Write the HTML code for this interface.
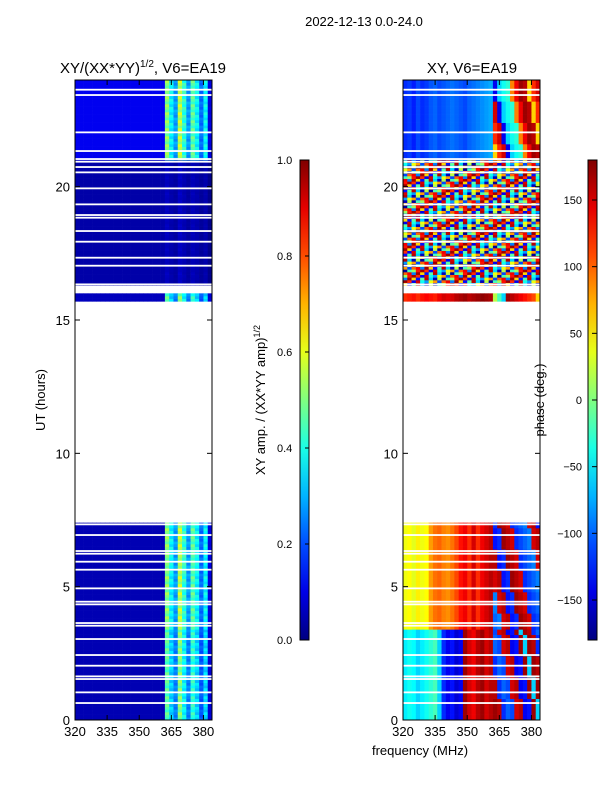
<!DOCTYPE html>
<html><head><meta charset="utf-8"><style>
body{margin:0;background:#fff}
svg{display:block;font-family:"Liberation Sans",sans-serif}
</style></head><body>
<svg id="s" width="600" height="800" xmlns="http://www.w3.org/2000/svg">
<text x="364" y="26" font-size="13" text-anchor="middle">2022-12-13 0.0-24.0</text>
<text x="143" y="73" font-size="15" text-anchor="middle">XY/(XX*YY)<tspan font-size="10" dy="-6">1/2</tspan><tspan dy="6">, V6=EA19</tspan></text>
<text x="472" y="73" font-size="15" text-anchor="middle">XY, V6=EA19</text>
<text transform="translate(45,400) rotate(-90)" font-size="13" text-anchor="middle">UT (hours)</text>
<text transform="translate(265,400) rotate(-90)" font-size="13" text-anchor="middle">XY amp. / (XX*YY amp)<tspan font-size="9" dy="-5">1/2</tspan></text>
<text transform="translate(544,400) rotate(-90)" font-size="13" text-anchor="middle">phase (deg.)</text>
<text x="420" y="755" font-size="13" text-anchor="middle">frequency (MHz)</text>
<g id="g"></g>
</svg>
<script>
// ---- data ----
const freqBins=[320,322,324,326,328,330,332,334,336,338,340,342,344,346,348,350,352,354,356,358,360,362,364,366,368,370,372,374,376,378,380,382];
const ampProfile=[0.05,0.05,0.05,0.05,0.05,0.05,0.05,0.05,0.05,0.05,0.05,0.05,0.05,0.05,0.05,0.05,0.05,0.05,0.05,0.05,0.06,0.55,0.4,0.3,0.6,0.45,0.3,0.5,0.4,0.25,0.4,0.1];
const segStart=[0,3.4,15.7,16.3,21.0];
const segEnd=[3.4,7.4,16.0,21.0,24.0];
const segLowAmp=[0.05,0.05,0.06,0.04,0.11];
const segHighScale=[0.9,1.0,0.9,0.12,1.0];
const segPhaseMode=[0,1,2,3,4];
const phaseLow=[
 [-50,-40,-45,-60,-50,-40,-30,-20,-60,-120,-140,-130,-150,-140,170,150,140,160,170,150,160],
 [40,45,35,50,40,45,80,95,100,90,85,95,110,130,140,120,150,120,140,150,160],
 [120,125,130,120,130,135,130,125,140,150,145,150,160,165,170,160,165,170,175,170,165],
 null,
 [-120,-115,-125,-110,-120,-115,-105,-100,-110,-105,-100,-95,-100,-105,-110,-100,-95,-90,-85,-80,-75]];
const phaseHigh=[
 [170,160,-120,-100,-110,150,160,-140,-130,170,-60],
 [160,150,-120,-110,-100,-90,150,160,-130,-120,170],
 [170,160,150,140,130,120,110,60,20,-20,-60],
 null,
 [90,140,170,160,60,120,150,-140,-60,-40,-30]];
const noiseVals=[-170,120,40,-90,160,-20,-140,80,170,-60,10,150,-110,60,-160,130,-40,100,-130,20,170,-80,140,-10];
const gapHours=[0.6,1.0,1.5,1.6,2.0,2.4,3.0,3.5,3.6,4.3,4.4,4.9,5.6,5.9,6.2,6.3,6.9,7.3,16.1,16.2,16.3,17.0,17.3,17.9,18.3,18.8,18.9,19.3,19.9,20.5,20.7,20.9,21.0,21.3,22.0,23.4,23.6];
const yTicks=[0,5,10,15,20];
const xTicks=[320,335,350,365,380];
const ampTicks=[0.0,0.2,0.4,0.6,0.8,1.0];
const phTicks=[-150,-100,-50,0,50,100,150];

// ---- helpers ----
const NS="http://www.w3.org/2000/svg";
const G=document.getElementById('g');
function jet(v){v=Math.max(0,Math.min(1,v));
 const r=Math.max(0,Math.min(1,1.5-Math.abs(4*v-3))),g=Math.max(0,Math.min(1,1.5-Math.abs(4*v-2))),b=Math.max(0,Math.min(1,1.5-Math.abs(4*v-1)));
 return `rgb(${Math.round(r*255)},${Math.round(g*255)},${Math.round(b*255)})`;}
function el(t,a,p){const e=document.createElementNS(NS,t);for(const k in a)e.setAttribute(k,a[k]);(p||G).appendChild(e);return e;}
const Y0=720,Y1=80;
const yS=h=>Y0-(h/24)*(Y0-Y1);
const xS=(x0,f)=>x0+(f-320)*(137/64);
const panels=[75,403];

function segOf(h){for(let i=0;i<segStart.length;i++)if(h>=segStart[i]&&h<segEnd[i])return i;return -1;}
const step=0.1;
for(let k=0;k<240;k++){
 const h=k*step, s=segOf(h+0.001);
 if(s<0)continue;
 const gap=gapHours.some(g=>Math.abs(g-h)<0.05);
 const y=yS(h+step), hh=yS(h)-yS(h+step)+0.3;
 for(let j=0;j<freqBins.length;j++){
  const f=freqBins[j];
  let a=j<21?segLowAmp[s]:ampProfile[j]*segHighScale[s]*(0.85+0.15*((k+j)%3)/2);
  const c1=el('rect',{x:xS(panels[0],f),y:y,width:4.6,height:hh,fill:jet(a)});
  
  
  let p;
  const m=segPhaseMode[s];
  if(m===3)p=noiseVals[(k*7+j*5)%noiseVals.length];
  else if(j<21)p=phaseLow[m][j];
  else p=phaseHigh[m][(j-21+Math.floor(k/8))%11];
  const c2=el('rect',{x:xS(panels[1],f),y:y,width:4.6,height:hh,fill:jet((p+180)/360)});
  
  
 }
 if(gap){
  panels.forEach(x0=>el('rect',{x:x0,y:yS(h+0.07),width:137,height:1.8,fill:'#fff'}));
 }
}
panels.forEach((x0,pi)=>{
 const fr=el('rect',{x:x0,y:Y1,width:137,height:Y0-Y1,fill:'none',stroke:'#000','stroke-width':1});
 
 
 yTicks.forEach(t=>{const y=yS(t);
  el('line',{x1:x0,x2:x0+5,y1:y,y2:y,stroke:'#000'});el('line',{x1:x0+137,x2:x0+132,y1:y,y2:y,stroke:'#000'});
  const tx=el('text',{x:x0-5,y:y+5,'font-size':13,'text-anchor':'end'});tx.textContent=t;
  
  });
 xTicks.forEach(t=>{const x=xS(x0,t);
  el('line',{x1:x,x2:x,y1:Y0,y2:Y0-5,stroke:'#000'});el('line',{x1:x,x2:x,y1:Y1,y2:Y1+5,stroke:'#000'});
  const tx=el('text',{x:x,y:736,'font-size':13,'text-anchor':'middle'});tx.textContent=t;
  
  });
});
const defs=el('defs',{});
const gr=el('linearGradient',{id:'jg',x1:0,y1:1,x2:0,y2:0},defs);
for(let i=0;i<=10;i++)el('stop',{offset:i/10,'stop-color':jet(i/10)},gr);
[[300,'amp-colorbar'],[588,'phase-colorbar']].forEach(([x,n])=>{
 const r=el('rect',{x:x,y:160,width:9,height:480,fill:'url(#jg)',stroke:'#000'});
 
 });
ampTicks.forEach(t=>{const y=640-t*480;
 el('line',{x1:305,x2:309,y1:y,y2:y,stroke:'#000'});
 const tx=el('text',{x:277,y:y+4,'font-size':11,'text-anchor':'start'});
 tx.textContent=t.toFixed(1);
 
 });
phTicks.forEach(t=>{const y=400-t*480/360;
 el('line',{x1:592,x2:597,y1:y,y2:y,stroke:'#000'});
 const tx=el('text',{x:582,y:y+4,'font-size':11,'text-anchor':'end'});tx.textContent=t<0?'\u2212'+(-t):t;
 
 });
</script>
</body></html>
